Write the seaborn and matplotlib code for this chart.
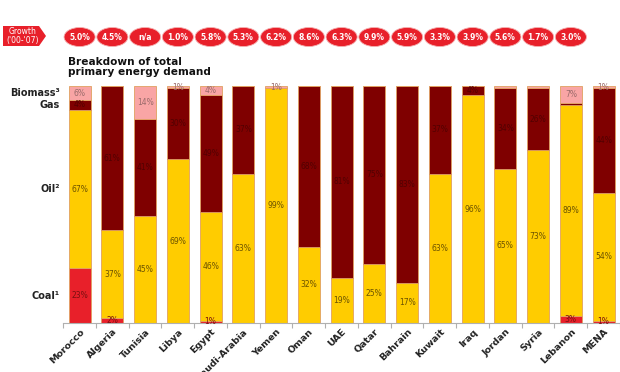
import matplotlib
matplotlib.use("Agg")
import matplotlib.pyplot as plt
from matplotlib.patches import Ellipse, Polygon
from matplotlib.ticker import FixedLocator
import seaborn as sns
import numpy as np
import pandas as pd

countries = ["Morocco", "Algeria", "Tunisia", "Libya", "Egypt", "Saudi-Arabia", "Yemen",
             "Oman", "UAE", "Qatar", "Bahrain", "Kuwait", "Iraq", "Jordan", "Syria",
             "Lebanon", "MENA"]
coal    = [23, 2, 0, 0, 1, 0, 0, 0, 0, 0, 0, 0, 0, 0, 0, 3, 1]
oil     = [67, 37, 45, 69, 46, 63, 99, 32, 19, 25, 17, 63, 96, 65, 73, 89, 54]
gas     = [4, 61, 41, 30, 49, 37, 0, 68, 81, 75, 83, 37, 4, 34, 26, 1, 44]
biomass = [6, 0, 14, 1, 4, 0, 1, 0, 0, 0, 0, 0, 0, 1, 1, 7, 1]
growth  = ["5.0%", "4.5%", "n/a", "1.0%", "5.8%", "5.3%", "6.2%", "8.6%", "6.3%",
           "9.9%", "5.9%", "3.3%", "3.9%", "5.6%", "1.7%", "3.0%"]

seg_names = ["Coal\u00b9", "Oil\u00b2", "Gas", "Biomass\u00b3"]
seg_vals = [coal, oil, gas, biomass]
seg_colors = ["#e8202a", "#ffcc00", "#7f0000", "#f9a5a5"]
seg_text = ["#7a1010", "#6b5200", "#520000", "#9a6a6a"]
hide = {("Jordan", 3), ("Syria", 3), ("Lebanon", 2)}

plt.rcParams['font.family'] = ['DejaVu Sans']
fig = plt.figure(figsize=(6.2, 3.72), dpi=100)
ax = fig.add_axes([0.102, 0.132, 0.898, 0.637])

df = pd.DataFrame({"country": countries})
bottom = np.zeros(len(countries))
for name, vals, col in zip(seg_names, seg_vals, seg_colors):
    v = np.array(vals, dtype=float)
    sns.barplot(x=df["country"], y=v, bottom=bottom, color=col, width=0.67,
                saturation=1, edgecolor="#e0a060", linewidth=0.6, ax=ax, order=countries)
    bottom = bottom + v

bottom = np.zeros(len(countries))
for si, (vals, tc) in enumerate(zip(seg_vals, seg_text)):
    for i, v in enumerate(vals):
        if v > 0 and (countries[i], si) not in hide:
            ax.text(i, bottom[i] + v / 2, f"{v}%", ha="center", va="center",
                    fontsize=5.5, color=tc)
    bottom = bottom + np.array(vals)

ax.set_xlim(-0.5, len(countries) - 0.5)
ax.set_ylim(0, 100)
for s in ["top", "right", "left"]:
    ax.spines[s].set_visible(False)
ax.spines["bottom"].set_color("#b0b0b0")
ax.spines["bottom"].set_linewidth(0.8)
ax.set_yticks([])
ax.set_xlabel("")
ax.set_ylabel("")
ax.tick_params(axis="x", which="major", length=0, pad=3)
ax.xaxis.set_minor_locator(FixedLocator(np.arange(-0.5, len(countries), 1.0)))
ax.tick_params(axis="x", which="minor", length=3.5, color="#b0b0b0", width=0.8)
ax.set_xticks(range(len(countries)))
ax.set_xticklabels(countries, rotation=45, ha="right", rotation_mode="anchor",
                   fontsize=6.8, fontweight="bold", color="#222222")

cum = 0
for name, vals in zip(seg_names, seg_vals):
    v = vals[0]
    yc = cum + v / 2
    cum += v
    ax.text(-0.6, yc, name, ha="right", va="center", fontsize=7,
            fontweight="bold", color="#222222")

fig.text(68 / 620, 1 - 57 / 372, "Breakdown of total\nprimary energy demand",
         ha="left", va="top", fontsize=7.6, fontweight="bold", color="#111111",
         linespacing=0.95)

trans = matplotlib.transforms.blended_transform_factory(ax.transData, fig.transFigure)
ey = 1 - 37 / 372
for i, g in enumerate(growth):
    e = Ellipse((i, ey), width=0.95, height=19 / 372, transform=trans,
                facecolor="#e8202a", edgecolor="#f5b0b0", linewidth=0.6, clip_on=False)
    fig.add_artist(e)
    fig.text(i, ey, g, transform=trans, ha="center", va="center", fontsize=5.5,
             fontweight="bold", color="white")

pts = [(3, 26), (39, 26), (46, 36), (39, 46), (3, 46)]
poly = Polygon([(x / 620, 1 - y / 372) for x, y in pts], closed=True,
               transform=fig.transFigure, facecolor="#e8202a", edgecolor="none")
fig.add_artist(poly)
fig.text(23 / 620, 1 - 36 / 372, "Growth\n('00-'07)", ha="center", va="center",
         fontsize=5.5, color="white", linespacing=0.9)

fig.savefig("out.png", dpi=100)
